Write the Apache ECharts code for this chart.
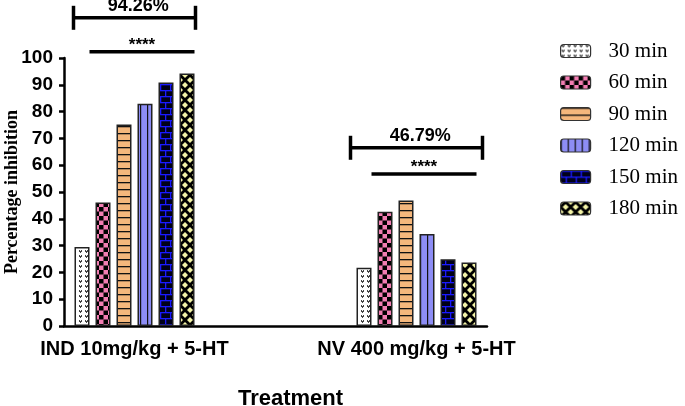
<!DOCTYPE html>
<html><head><meta charset="utf-8">
<script src="https://cdn.jsdelivr.net/npm/echarts@6/dist/echarts.min.js"></script>
<style>html,body{margin:0;padding:0;background:#fff}#c{width:685px;height:406px}</style>
</head><body><div id="c"></div>
<script>
// ---- data ----
const categories = ['IND 10mg/kg + 5-HT', '', 'NV 400 mg/kg + 5-HT'];
const seriesNames = ['30 min', '60 min', '90 min', '120 min', '150 min', '180 min'];
const min30  = [29.5, null, 21.7];
const min60  = [46.1, null, 42.6];
const min90  = [75.2, null, 46.79];
const min120 = [82.9, null, 34.3];
const min150 = [90.9, null, 24.9];
const min180 = [94.26, null, 23.7];
const yMin = 0, yMax = 100, yStep = 10;
const yAxisTitle = 'Percentage inhibition';
const xAxisTitle = 'Treatment';
const annotationCats   = [0, 2];
const annotationLabels = ['94.26%', '46.79%'];
const bracketValues    = [115, 66.5];
const starValues       = [102.3, 56.7];
const starLabel = '****';

// ---- patterns ----
function mk(w, h, draw) {
  const c = document.createElement('canvas'); c.width = w; c.height = h;
  const g = c.getContext('2d'); draw(g); return { image: c, repeat: 'repeat' };
}
const pat30 = mk(6, 5, g => {
  g.fillStyle = '#fff'; g.fillRect(0, 0, 6, 5);
  g.fillStyle = '#444';
  g.fillRect(1, 0, 1, 1); g.fillRect(3, 0, 1, 1);
  g.fillRect(1, 1, 3, 1); g.fillRect(2, 2, 1, 1);
});
const pat60 = mk(9, 9, g => {
  g.fillStyle = '#f27db2'; g.fillRect(0, 0, 9, 9);
  g.fillStyle = '#000'; g.fillRect(0, 0, 4.5, 4.5); g.fillRect(4.5, 4.5, 4.5, 4.5);
});
const pat90 = mk(4, 7, g => {
  g.fillStyle = '#f5b77c'; g.fillRect(0, 0, 4, 7);
  g.fillStyle = '#111'; g.fillRect(0, 0, 4, 1.3);
});
const pat120 = mk(7.5, 4, g => {
  g.fillStyle = '#8d8df5'; g.fillRect(0, 0, 8, 4);
  g.fillStyle = '#111'; g.fillRect(0, 0, 1.2, 4);
});
const pat150 = mk(10, 12, g => {
  g.fillStyle = '#000018'; g.fillRect(0, 0, 10, 12);
  g.fillStyle = '#1a1aff';
  g.fillRect(0, 0, 10, 1.3); g.fillRect(0, 6, 10, 1.3);
  g.fillRect(0, 0, 1.3, 6); g.fillRect(5, 6, 1.3, 6);
});
const pat180 = mk(10, 10, g => {
  g.fillStyle = '#000'; g.fillRect(0, 0, 10, 10);
  g.fillStyle = '#f3f3a6';
  const dia = (cx, cy, r) => { g.beginPath(); g.moveTo(cx, cy - r); g.lineTo(cx + r, cy); g.lineTo(cx, cy + r); g.lineTo(cx - r, cy); g.closePath(); g.fill(); };
  dia(5, 5, 3); dia(0, 0, 3); dia(10, 0, 3); dia(0, 10, 3); dia(10, 10, 3);
});
const patterns = [pat30, pat60, pat90, pat120, pat150, pat180];
const values = [min30, min60, min90, min120, min150, min180];

const BAR_W = 15, GAP = 0.4;
const chart = echarts.init(document.getElementById('c'), null, { renderer: 'canvas' });

const option = {
  animation: false,
  backgroundColor: '#fff',
  grid: { left: 64, right: 198, top: 58, bottom: 80, containLabel: false, outerBoundsMode: 'none' },
  legend: {
    orient: 'vertical', left: 555, top: 35,
    itemWidth: 30, itemHeight: 13, itemGap: 9.5,
    data: seriesNames,
    textStyle: { fontFamily: 'Liberation Serif', fontSize: 21, color: '#000', lineHeight: 22, padding: [0, 0, 0, 13] },
    itemStyle: { borderColor: '#333', borderWidth: 1.2 }
  },
  xAxis: {
    type: 'category', data: categories,
    name: xAxisTitle, nameLocation: 'middle', nameGap: 62,
    nameTextStyle: { fontFamily: 'Liberation Sans', fontWeight: 'bold', fontSize: 22, color: '#000', padding: [0, 0, 0, 30] },
    axisLine: { lineStyle: { color: '#000', width: 2.5 } },
    axisTick: { alignWithLabel: true, length: 6, lineStyle: { color: '#000', width: 2.5 } },
    axisLabel: { fontFamily: 'Liberation Sans', fontWeight: 'bold', fontSize: 20, color: '#000', margin: 13, interval: 0 }
  },
  yAxis: {
    type: 'value', min: yMin, max: yMax, interval: yStep,
    axisLine: { show: true, lineStyle: { color: '#000', width: 2.5 } },
    axisTick: { show: true, length: 5, lineStyle: { color: '#000', width: 2.5 } },
    axisLabel: { fontFamily: 'Liberation Sans', fontWeight: 'bold', fontSize: 19, color: '#000', margin: 11 },
    splitLine: { show: false }
  },
  series: seriesNames.map((n, i) => ({
    name: n, type: 'bar', data: values[i],
    barWidth: BAR_W, barGap: (GAP * 100) + '%',
    itemStyle: { color: patterns[i], borderColor: '#222', borderWidth: 1.5 }
  }))
};
chart.setOption(option);

// annotations placed via library coordinate conversion
const half = (6 * BAR_W + 5 * BAR_W * GAP) / 2;
const graphics = [];
const lw = 3.5;
annotationCats.forEach((cat, k) => {
  const [cx, by] = chart.convertToPixel({ gridIndex: 0 }, [cat, bracketValues[k]]);
  const [, sy] = chart.convertToPixel({ gridIndex: 0 }, [cat, starValues[k]]);
  const pad = k === 0 ? 1 : 6;
  const x1 = cx - half - pad, x2 = cx + half + pad;
  const s1 = cx - half + BAR_W, s2 = cx + half;
  const sty = { stroke: '#000', lineWidth: lw };
  graphics.push({ type: 'line', shape: { x1, y1: by, x2, y2: by }, style: sty });
  graphics.push({ type: 'line', shape: { x1, y1: by - 12, x2: x1, y2: by + 12 }, style: sty });
  graphics.push({ type: 'line', shape: { x1: x2, y1: by - 12, x2, y2: by + 12 }, style: sty });
  graphics.push({ type: 'line', shape: { x1: s1, y1: sy, x2: s2, y2: sy }, style: sty });
  const tx = ((x1 + x2) / 2 + (s1 + s2) / 2) / 2;
  graphics.push({ type: 'text', x: tx, y: by - 3, style: { text: annotationLabels[k], fill: '#000', font: 'bold 18px "Liberation Sans"', textAlign: 'center', textVerticalAlign: 'bottom' } });
  graphics.push({ type: 'text', x: (s1 + s2) / 2, y: sy - 15, style: { text: starLabel, fill: '#000', font: 'bold 17px "Liberation Sans"', textAlign: 'center', textVerticalAlign: 'top' } });
});
// y-axis title, centred on the value axis
const [, yMid] = chart.convertToPixel({ gridIndex: 0 }, [0, (yMin + yMax) / 2]);
graphics.push({ type: 'text', x: 12, y: yMid, rotation: Math.PI / 2,
  style: { text: yAxisTitle, fill: '#000', font: 'bold 18px "Liberation Serif"', textAlign: 'center', textVerticalAlign: 'middle' } });
chart.setOption({ graphic: graphics });
</script>
</body></html>
